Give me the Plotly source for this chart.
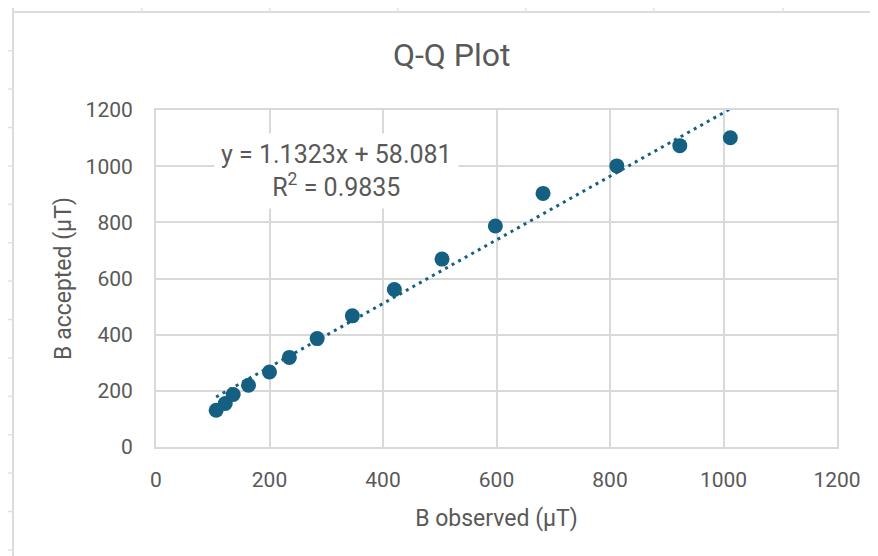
import plotly.graph_objects as go

# ---- data ----
b_observed = [106, 122, 136, 163, 200, 235, 284, 346, 420, 504, 598, 682, 812, 923, 1012]
b_accepted = [131, 155, 187, 220, 267, 319, 386, 467, 561, 669, 787, 903, 1001, 1073, 1101]
trend_slope = 1.1323
trend_intercept = 58.081
r_squared = 0.9835
tick_vals = [0, 200, 400, 600, 800, 1000, 1200]

# page body has an 8px margin; figure coordinates = screen coordinates - 8
OFF = 8
W, H = 878 - OFF, 556 - OFF
ML, MR, MT, MB = 156 - OFF, 41, 110 - OFF, 109
PW, PH = W - ML - MR, H - MT - MB

def px(xscreen):
    return (xscreen - OFF - ML) / PW

def py(yscreen):
    return (H - MB - (yscreen - OFF)) / PH

ACCENT = "#156082"
TEXT = "#595959"
GRID = "#d9d9d9"
FONT = "Roboto, Liberation Sans, sans-serif"

fig = go.Figure()

# trendline (linear, from coefficients)
tx = [min(b_observed), max(b_observed)]
ty = [trend_slope * v + trend_intercept for v in tx]
fig.add_trace(go.Scatter(
    x=tx, y=ty, mode="lines",
    line=dict(color=ACCENT, width=3, dash="3px,4.5px"),
    hoverinfo="skip", showlegend=False,
))

fig.add_trace(go.Scatter(
    x=b_observed, y=b_accepted, mode="markers",
    marker=dict(color=ACCENT, size=15),
    showlegend=False,
))

# spreadsheet-like background lines outside the chart area
shapes = []
line_style = dict(color="#dcdcdc", width=2)
shapes.append(dict(type="line", xref="paper", yref="paper",
                   x0=px(13), x1=px(880), y0=py(12), y1=py(12), line=line_style))
shapes.append(dict(type="line", xref="paper", yref="paper",
                   x0=px(13), x1=px(13), y0=py(8), y1=py(560), line=line_style))
for xc in [142, 270, 398, 526, 654, 783]:
    shapes.append(dict(type="line", xref="paper", yref="paper",
                       x0=px(xc), x1=px(xc), y0=py(8), y1=py(12),
                       line=dict(color="#e2e2e2", width=1.5)))
k = 1
while 12.3 + 38.4 * k < 556:
    yc = 12.3 + 38.4 * k
    shapes.append(dict(type="line", xref="paper", yref="paper",
                       x0=px(8), x1=px(13), y0=py(yc), y1=py(yc),
                       line=dict(color="#e2e2e2", width=1.5)))
    k += 1

annotations = [
    dict(text="Q-Q Plot", xref="paper", yref="paper", x=px(452), y=py(55),
         xanchor="center", yanchor="middle", showarrow=False,
         font=dict(family=FONT, size=32, color=TEXT)),
    dict(text=f"y = {trend_slope}x + {trend_intercept}<br>R<sup>2</sup> = {r_squared}",
         xref="paper", yref="paper", x=px(336.5), y=py(171),
         xanchor="center", yanchor="middle", showarrow=False,
         bgcolor="white", borderpad=6,
         font=dict(family=FONT, size=25, color=TEXT)),
]

axis_common = dict(
    range=[0, 1200], tickvals=tick_vals, showgrid=True, gridcolor=GRID, gridwidth=2,
    zeroline=False, showline=True, linecolor=GRID, linewidth=2, mirror=True,
    ticks="", tickfont=dict(family=FONT, size=21, color=TEXT),
)

fig.update_layout(
    width=W, height=H,
    margin=dict(l=ML, r=MR, t=MT, b=MB),
    paper_bgcolor="white", plot_bgcolor="white",
    template="none",
    shapes=shapes, annotations=annotations,
    xaxis=dict(**axis_common, ticklabelstandoff=13,
               title=dict(text="B observed (µT)", standoff=19,
                          font=dict(family=FONT, size=23, color=TEXT))),
    yaxis=dict(**axis_common, ticklabelstandoff=17,
               title=dict(text="B accepted (µT)", standoff=8,
                          font=dict(family=FONT, size=23, color=TEXT))),
)

fig.write_html("out.html")
